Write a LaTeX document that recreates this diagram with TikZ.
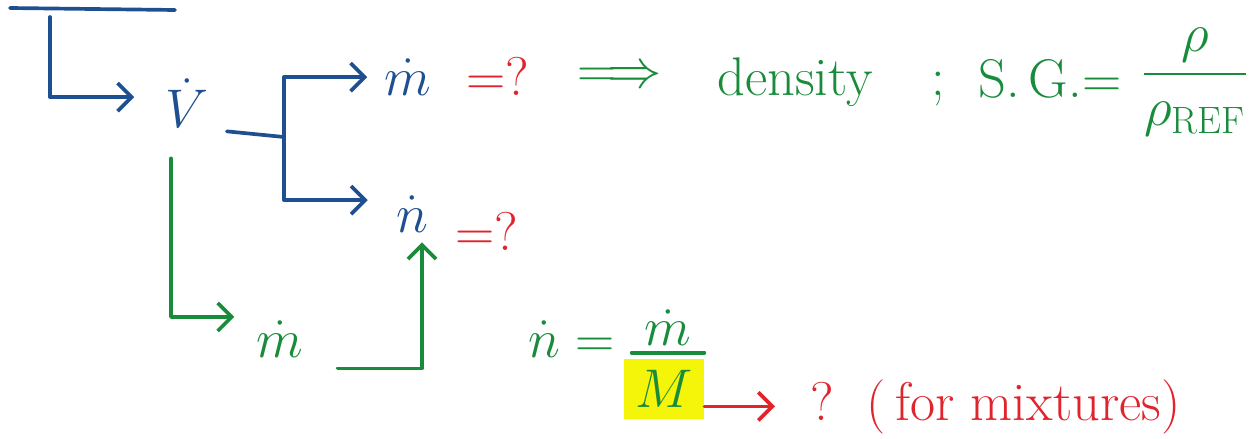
\RequirePackage{fix-cm}
\documentclass[tikz,border=0pt]{standalone}
\usepackage{amsmath, amssymb}
\usepackage{fontspec}
\usepackage{tikz}
\usetikzlibrary{arrows.meta, positioning}
\definecolor{penblue}{RGB}{30,80,145}
\definecolor{pengreen}{RGB}{25,140,60}
\definecolor{penred}{RGB}{225,35,45}
\definecolor{hlyellow}{RGB}{245,245,10}

\begin{document}
\begin{tikzpicture}[
    x=0.02cm, y=-0.02cm,
    txt/.style={inner sep=0pt, font=\fontsize{31}{37}\selectfont},
    pen/.style={line width=2.1pt, line cap=round, line join=round},
    arrow/.style={pen, -{Straight Barb[length=8pt, width=16pt]}}
]
    \useasboundingbox (0,0) rectangle (1257,439);

    % V dot
    \node[txt, penblue, anchor=base] (vdot) at (187,128) {$\dot{V}$};
    \coordinate (topleft) at (10,8);
    \coordinate (topright) at (175,10);
    \coordinate (topdrop) at (50,17);
    \draw[pen, penblue] (topleft) -- (topright);
    \draw[arrow, penblue] (topdrop) |- ([shift={(-31,19)}]vdot.north west);

    % mass flow = ?
    \node[txt, penblue, anchor=base] (mdot) at (408,95) {$\dot{m}$};
    \node[txt, penred, anchor=base west] (mq) at (466,95) {$=?$};
    \node[txt, pengreen, anchor=base] (impl) at (620,88) {$\Longrightarrow$};
    \node[txt, pengreen, anchor=base] (dens) at (795,95) {density};
    \node[txt, pengreen, anchor=base] (semi) at (938,95) {;};
    \node[txt, pengreen, anchor=base west] (sg) at (978,97) {S.\,G.=};
    \node[txt, pengreen, anchor=base] (sgfrac) at (1195,88) {$\dfrac{\rho}{\rho_{\mathrm{REF}}}$};

    % mole flow = ?
    \node[txt, penblue, anchor=base] (ndot) at (412,232) {$\dot{n}$};
    \node[txt, penred, anchor=base west] (nq) at (455,250) {$=?$};

    % split from V dot
    \coordinate (split) at (284,137);
    \draw[pen, penblue] ([shift={(18,3)}]vdot.south east) -- (split);
    \draw[arrow, penblue] (split) |- ([shift={(-17,0)}]mdot.west);
    \draw[arrow, penblue] (split) |- ([shift={(-28,-14)}]ndot.west);

    % mass flow below
    \node[txt, pengreen, anchor=base] (mflow) at (280,357) {$\dot{m}$};
    \draw[arrow, pengreen] ([shift={(-16,30)}]vdot.south) |- ([shift={(-22,-4)}]mflow.north west);
    \draw[arrow, pengreen] ([shift={(34,11)}]mflow.south east) -| ([shift={(10,10)}]ndot.south);

    % n dot = m dot / M
    \node[txt, pengreen, anchor=base east] (nform) at (615,357) {$\dot{n}=$};
    \node[txt, pengreen, anchor=base] (mnum) at (668,345) {$\dot{m}$};
    \node[txt, pengreen, fill=hlyellow, minimum width=1.6cm, minimum height=1.2cm] (molar) at (664,389) {$M$};
    \draw[pen, pengreen] ([shift={(8,-6)}]molar.north west) -- ([shift={(0,-6)}]molar.north east);

    % mixtures
    \node[txt, penred, anchor=base west] (mix) at (810,420) {?~~(\,for mixtures)};
    \draw[arrow, penred] (molar.east |- mix.west) -- ([shift={(-35,0)}]mix.west);
\end{tikzpicture}
\end{document}
